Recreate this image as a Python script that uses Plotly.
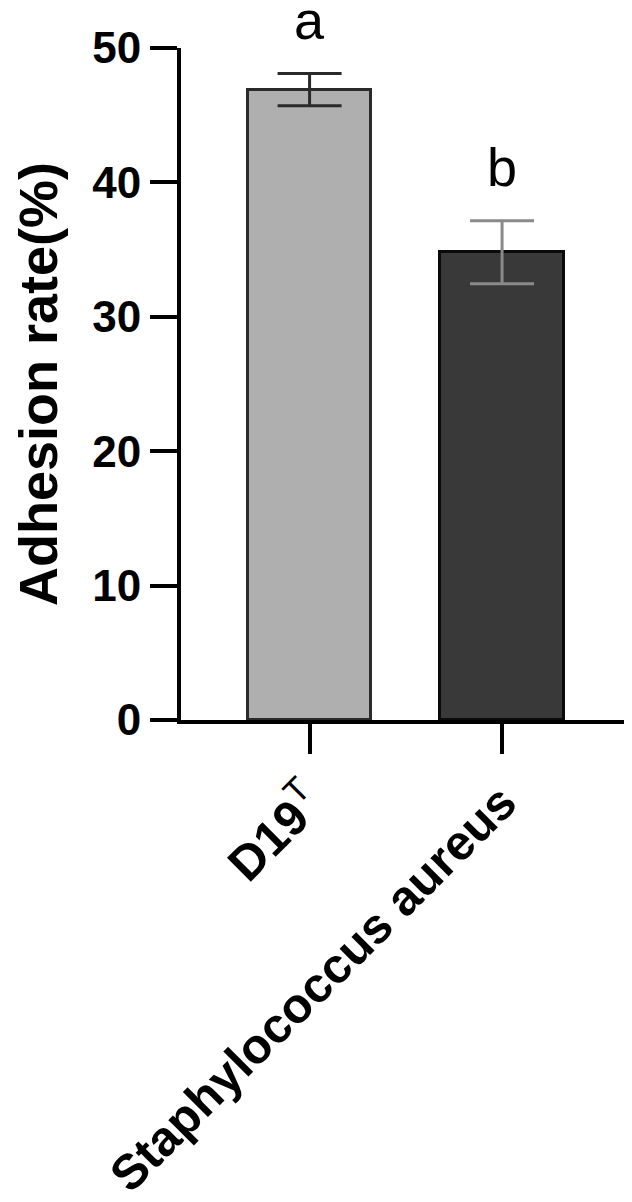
import plotly.graph_objects as go

categories = ["D19<sup><span style='font-weight:normal'>T</span></sup>", "Staphylococcus aureus"]
means = [46.9, 34.8]
errors = [1.2, 2.35]
letters = ["a", "b"]
fills = ["#afafaf", "#393939"]
outlines = ["#2a2a2a", "#0a0a0a"]
err_colors = ["#2a2a2a", "#8a8a8a"]

FONT = "Liberation Sans, Arial, sans-serif"
xpos = list(range(len(categories)))

fig = go.Figure()
for i in xpos:
    fig.add_trace(go.Bar(
        x=[xpos[i]], y=[means[i]], width=0.64,
        marker=dict(color=fills[i], line=dict(color=outlines[i], width=3)),
        error_y=dict(type="data", array=[errors[i]], visible=True,
                     color=err_colors[i], thickness=3, width=32),
        showlegend=False,
    ))
    fig.add_annotation(x=xpos[i], y=means[i] + errors[i], text=letters[i],
                       showarrow=False, yanchor="bottom", yshift=22,
                       font=dict(family=FONT, size=54, color="#000"))

fig.add_annotation(xref="paper", yref="paper", x=-0.317, y=0.5,
                   text="Adhesion rate(%)", textangle=-90, showarrow=False,
                   xanchor="center", yanchor="middle",
                   font=dict(family=FONT, size=54, color="#000", weight="bold"))

fig.update_layout(
    width=632, height=1202,
    margin=dict(l=173, r=8, t=40, b=487),
    plot_bgcolor="white", paper_bgcolor="white",
    bargap=0,
)
fig.update_xaxes(
    range=[-0.668, 1.675], tickvals=xpos, ticktext=categories,
    showline=True, linecolor="black", linewidth=4,
    ticks="outside", ticklen=30, tickwidth=4, tickcolor="black",
    tickangle=-45, showgrid=False, zeroline=False,
    tickfont=dict(family=FONT, size=49, color="#000", weight="bold"),
)
fig.update_yaxes(
    range=[0, 50], tickvals=[0, 10, 20, 30, 40, 50],
    showline=True, linecolor="black", linewidth=4,
    ticks="outside", ticklen=27, tickwidth=4, tickcolor="black",
    showgrid=False, zeroline=False,
    tickfont=dict(family=FONT, size=44, color="#000", weight="bold"),
)

fig.write_html("out.html")
